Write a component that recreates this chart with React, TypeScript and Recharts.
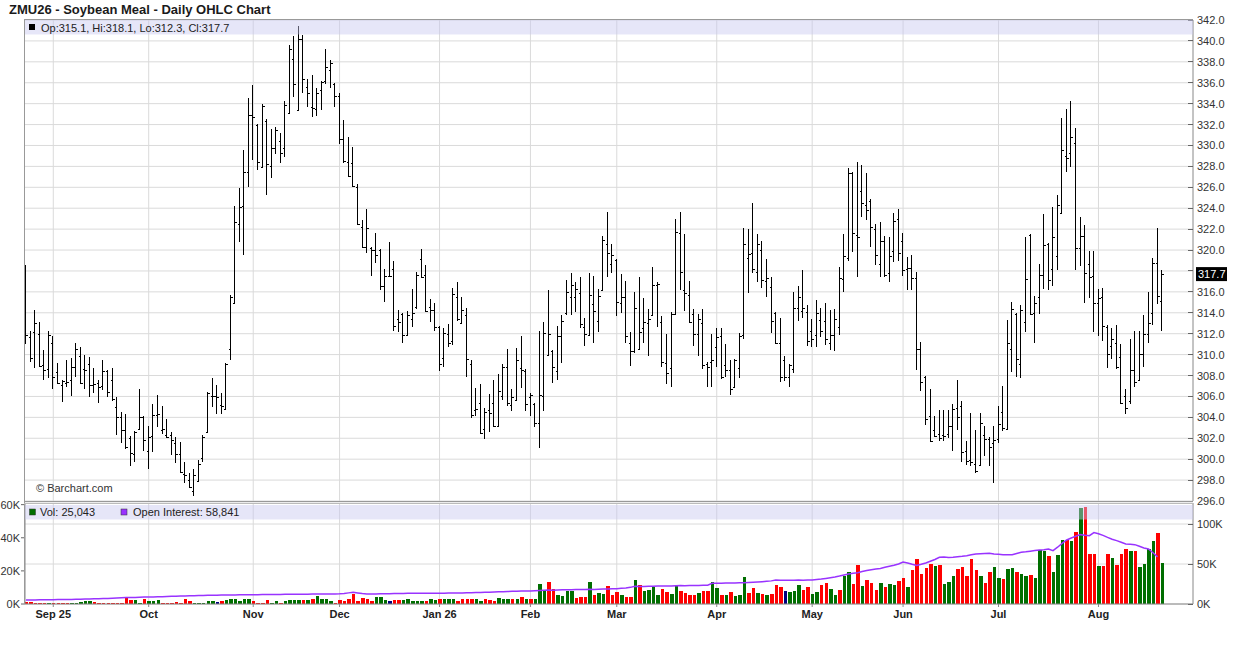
import React from 'react';
import {
  ComposedChart,
  Bar,
  Line,
  XAxis,
  YAxis,
  CartesianGrid,
  ReferenceLine,
} from 'recharts';

const FONT = "'Liberation Sans', Arial, Helvetica, sans-serif";

// daily OHLC, ZMU26 soybean meal (Aug 22 2025 .. Aug 21 2026)
const opens = [
  314.2, 311.7, 312.2, 312.0, 309.0, 308.6, 311.1, 308.3, 307.1, 307.3,
  307.6, 308.8, 309.9, 308.6, 309.1, 307.1, 307.3, 307.0, 308.4, 307.6,
  305.0, 304.0, 302.8, 302.0, 300.5, 302.9, 304.0, 300.8, 302.2, 304.2,
  302.8, 302.3, 302.3, 301.5, 300.5, 298.6, 298.0, 297.0, 297.9, 300.1,
  302.6, 306.0, 306.0, 305.2, 304.8, 310.5, 314.9, 322.5, 324.2, 327.5,
  332.9, 332.0, 327.9, 332.3, 328.0, 329.8, 330.4, 329.8, 333.1, 338.3,
  333.4, 340.2, 335.6, 333.7, 333.5, 335.3, 336.2, 337.2, 335.9, 334.7,
  330.6, 328.4, 328.3, 326.0, 322.2, 320.3, 320.2, 320.0, 320.0, 316.6,
  317.5, 318.2, 313.4, 313.9, 311.9, 313.4, 314.6, 319.1, 317.6, 314.6,
  314.3, 312.6, 309.7, 312.0, 311.3, 315.5, 313.0, 313.8, 309.1, 304.7,
  305.4, 302.9, 304.7, 305.4, 303.2, 306.0, 308.8, 305.2, 305.7, 308.7,
  308.4, 305.9, 305.3, 303.5, 306.0, 310.0, 310.3, 308.4, 311.8, 314.0,
  315.5, 315.5, 315.9, 312.6, 311.9, 314.8, 313.2, 316.2, 320.6, 318.7,
  319.0, 314.9, 315.5, 311.1, 310.3, 310.5, 312.5, 313.0, 313.8, 316.7,
  313.1, 309.2, 308.7, 313.9, 321.6, 316.2, 315.7, 313.9, 312.0, 313.0,
  309.1, 309.3, 310.7, 311.8, 309.0, 308.5, 306.9, 308.7, 311.9, 319.2,
  319.7, 317.9, 320.0, 317.0, 316.5, 314.0, 311.1, 309.5, 307.9, 308.6,
  314.5, 314.2, 314.1, 312.3, 311.9, 313.3, 313.2, 311.1, 311.9, 312.6,
  317.2, 319.2, 327.4, 321.4, 325.6, 324.3, 324.7, 322.0, 318.7, 320.9,
  317.8, 319.9, 323.0, 320.9, 318.2, 318.3, 317.3, 310.5, 307.9, 304.1,
  302.8, 302.4, 302.3, 302.4, 303.2, 304.9, 305.1, 300.8, 299.9, 299.5,
  299.4, 302.3, 301.9, 301.5, 301.9, 304.5, 302.9, 310.5, 313.9, 309.1,
  313.1, 321.4, 314.0, 315.5, 317.6, 320.6, 318.2, 319.4, 323.5, 329.0,
  329.3, 330.2, 320.2, 321.3, 318.7, 317.5, 314.9, 315.5, 312.6, 310.8,
  311.1, 309.8, 306.0, 305.6, 308.5, 307.6, 310.1, 312.0, 314.0, 318.8,
  315.1,
];

const highs = [
  318.6, 312.3, 314.3, 313.1, 310.4, 312.3, 311.8, 309.2, 307.6, 309.5,
  309.7, 311.1, 310.7, 310.0, 309.8, 308.7, 307.6, 309.5, 308.5, 308.7,
  305.9, 304.5, 304.3, 302.2, 302.7, 306.7, 304.1, 303.2, 305.3, 306.1,
  305.1, 303.8, 302.6, 302.1, 301.6, 299.7, 298.7, 299.1, 299.9, 302.3,
  306.4, 307.8, 307.1, 306.3, 309.2, 315.7, 324.2, 325.9, 329.6, 334.5,
  335.8, 332.1, 334.0, 332.5, 331.6, 331.8, 331.2, 334.3, 339.6, 340.5,
  341.4, 340.6, 336.4, 336.7, 335.5, 336.2, 339.2, 338.2, 336.0, 335.0,
  332.4, 330.8, 329.9, 326.3, 322.9, 323.9, 320.3, 321.6, 320.1, 318.2,
  320.8, 319.0, 314.3, 314.0, 314.2, 316.3, 317.9, 320.1, 318.6, 315.3,
  314.9, 312.7, 312.5, 312.9, 316.4, 316.9, 315.5, 314.5, 309.5, 306.8,
  307.2, 304.9, 306.2, 307.6, 308.1, 309.1, 310.5, 306.7, 310.6, 311.8,
  308.6, 306.3, 305.4, 312.3, 313.1, 316.2, 310.4, 312.7, 313.8, 317.1,
  317.8, 316.9, 317.4, 313.5, 317.8, 317.5, 316.3, 321.3, 323.6, 320.6,
  319.1, 317.7, 317.0, 312.2, 316.0, 317.4, 315.4, 314.4, 318.4, 316.9,
  313.7, 312.0, 314.1, 323.0, 323.6, 321.5, 317.0, 314.4, 313.9, 314.4,
  309.3, 312.0, 312.5, 312.5, 311.0, 309.5, 309.6, 312.1, 322.1, 322.0,
  324.5, 321.5, 320.9, 319.1, 317.4, 314.1, 313.5, 309.9, 309.1, 316.0,
  316.6, 318.1, 314.7, 313.4, 315.2, 314.5, 314.9, 314.3, 314.4, 318.4,
  321.5, 327.8, 327.5, 328.4, 328.1, 327.4, 324.9, 322.5, 322.7, 321.3,
  321.2, 323.5, 323.9, 321.6, 319.3, 319.5, 317.9, 311.2, 308.0, 306.7,
  304.1, 304.7, 304.7, 304.7, 305.3, 307.6, 305.6, 301.7, 304.4, 302.8,
  304.4, 303.2, 302.1, 303.2, 305.1, 307.0, 313.3, 315.0, 314.0, 314.7,
  321.2, 321.5, 315.6, 318.7, 323.4, 320.7, 324.1, 325.3, 332.6, 333.5,
  334.3, 331.7, 323.2, 322.4, 319.9, 319.9, 316.3, 316.4, 312.8, 312.5,
  312.8, 311.0, 306.7, 311.5, 312.3, 312.3, 313.8, 316.0, 319.2, 322.1,
  318.1,
];

const lows = [
  311.0, 309.3, 308.7, 308.8, 307.6, 307.8, 306.7, 307.2, 305.5, 306.9,
  306.0, 307.9, 307.2, 306.7, 305.9, 306.3, 305.4, 306.6, 305.9, 305.6,
  302.3, 301.5, 301.0, 299.3, 299.7, 302.8, 300.8, 299.1, 300.7, 303.1,
  302.4, 302.0, 300.4, 299.6, 298.7, 297.7, 297.2, 296.5, 297.8, 299.7,
  302.5, 305.0, 304.3, 304.3, 304.7, 309.5, 314.8, 320.8, 319.5, 326.0,
  328.6, 327.7, 327.8, 325.3, 326.9, 329.2, 328.3, 328.9, 333.0, 334.6,
  333.3, 335.0, 333.7, 332.7, 332.8, 333.4, 335.9, 335.5, 333.7, 330.1,
  328.3, 327.0, 326.0, 322.4, 320.2, 319.7, 317.5, 318.8, 316.2, 315.0,
  317.4, 312.3, 312.2, 311.1, 311.8, 312.6, 314.4, 317.3, 314.1, 313.1,
  312.3, 308.4, 308.8, 310.7, 310.9, 313.2, 312.9, 307.9, 303.9, 304.1,
  302.4, 301.9, 302.6, 303.1, 303.1, 305.7, 305.1, 304.6, 305.6, 306.8,
  304.6, 304.1, 303.1, 301.1, 304.6, 309.9, 307.3, 307.6, 309.2, 313.8,
  313.8, 314.1, 312.5, 310.8, 311.8, 311.1, 312.2, 316.1, 317.4, 317.8,
  313.7, 314.0, 311.1, 308.9, 310.2, 310.4, 311.1, 309.9, 313.7, 312.6,
  308.8, 307.2, 306.9, 313.8, 316.2, 314.2, 313.0, 310.8, 309.9, 308.6,
  306.9, 306.9, 308.8, 307.7, 307.9, 306.1, 306.8, 307.8, 311.5, 315.9,
  317.8, 316.9, 316.4, 315.5, 312.1, 311.0, 307.4, 307.5, 306.9, 308.2,
  313.2, 313.5, 310.8, 310.7, 310.7, 311.7, 310.9, 310.4, 310.3, 311.9,
  316.0, 319.0, 319.8, 317.4, 323.2, 322.9, 320.3, 318.6, 317.4, 317.4,
  316.9, 318.9, 319.0, 317.5, 316.2, 316.2, 308.5, 306.5, 303.3, 301.6,
  302.1, 301.7, 301.7, 302.0, 300.8, 302.8, 299.7, 299.4, 299.3, 298.7,
  299.3, 300.3, 299.3, 297.7, 301.5, 302.7, 302.8, 308.3, 307.9, 307.8,
  312.2, 313.8, 311.1, 313.9, 316.3, 316.2, 316.6, 318.1, 323.4, 327.5,
  327.9, 318.1, 318.5, 314.9, 315.4, 312.2, 311.8, 311.3, 308.7, 309.6,
  308.6, 305.3, 304.3, 305.3, 306.9, 307.5, 308.8, 311.1, 312.8, 314.8,
  312.3,
];

const closes = [
  311.9, 309.7, 313.0, 308.9, 308.5, 311.9, 307.9, 307.3, 307.5, 307.4,
  308.8, 310.5, 307.3, 308.5, 307.1, 307.2, 306.9, 308.4, 306.4, 305.8,
  304.0, 302.8, 301.2, 300.6, 302.6, 304.0, 301.8, 302.1, 304.2, 304.3,
  302.9, 302.1, 301.8, 300.5, 298.8, 298.5, 297.3, 298.5, 299.5, 302.1,
  306.3, 306.0, 305.9, 305.1, 309.1, 315.5, 322.7, 324.1, 327.5, 332.9,
  332.7, 328.4, 333.8, 328.2, 329.8, 331.5, 329.3, 333.9, 339.2, 335.9,
  340.2, 336.4, 335.0, 333.6, 335.0, 336.1, 337.5, 337.9, 334.7, 330.6,
  328.5, 327.1, 326.1, 322.5, 320.3, 322.1, 320.0, 319.5, 316.6, 317.5,
  317.5, 312.7, 313.1, 311.9, 313.8, 314.0, 317.6, 317.4, 314.2, 314.3,
  312.6, 309.1, 312.1, 311.1, 315.8, 313.4, 314.3, 309.6, 304.2, 304.8,
  302.5, 304.5, 304.4, 303.2, 306.5, 308.8, 305.4, 305.9, 309.5, 308.5,
  305.3, 306.1, 303.5, 306.1, 312.1, 312.0, 308.8, 311.8, 313.2, 316.0,
  316.7, 316.3, 312.9, 312.0, 315.7, 314.2, 315.6, 321.0, 319.7, 319.5,
  315.0, 315.5, 311.8, 310.3, 314.5, 312.2, 313.1, 313.4, 316.7, 316.8,
  309.3, 308.2, 313.9, 321.7, 317.9, 315.9, 313.1, 312.0, 313.4, 309.0,
  308.8, 309.5, 311.7, 307.9, 308.5, 306.7, 309.5, 311.8, 320.6, 319.6,
  318.2, 320.6, 317.1, 317.3, 313.2, 311.1, 307.9, 307.9, 309.0, 314.5,
  315.5, 314.5, 311.3, 311.5, 314.0, 312.3, 311.5, 311.9, 313.4, 317.3,
  319.4, 327.4, 321.6, 321.2, 324.5, 323.8, 322.2, 319.5, 320.9, 317.6,
  319.4, 322.8, 319.7, 318.1, 318.3, 317.3, 310.5, 307.4, 303.8, 301.7,
  302.2, 302.0, 302.2, 303.2, 304.8, 304.0, 300.7, 299.8, 299.7, 298.9,
  303.5, 301.9, 301.2, 301.8, 303.4, 303.0, 311.1, 314.4, 309.6, 314.3,
  317.2, 313.9, 314.9, 317.6, 320.5, 317.1, 321.2, 324.3, 329.6, 328.8,
  330.8, 320.2, 321.3, 317.8, 317.4, 314.9, 315.4, 312.7, 310.1, 311.5,
  308.8, 305.4, 304.9, 308.5, 307.4, 310.1, 312.0, 313.0, 318.8, 315.6,
  317.7,
];

// volume in thousands of contracts
const volumes = [
  1.0, 1.4, 0.6, 0.8, 0.8, 0.8, 0.8, 0.8, 0.8, 0.8,
  0.8, 0.8, 1.0, 1.6, 2.0, 1.4, 0.8, 0.8, 0.8, 0.8,
  0.8, 0.8, 3.8, 2.2, 2.2, 0.8, 2.8, 1.6, 1.6, 2.2,
  0.8, 0.8, 0.8, 1.4, 0.8, 2.8, 2.0, 0.8, 0.8, 0.8,
  1.6, 1.6, 1.4, 1.6, 2.4, 2.8, 2.8, 1.6, 3.2, 2.8,
  1.6, 0.8, 0.8, 2.4, 0.8, 1.6, 0.8, 1.6, 2.2, 2.2,
  2.2, 2.2, 2.2, 3.2, 4.6, 2.8, 2.8, 1.6, 0.8, 2.2,
  1.6, 2.8, 5.9, 1.6, 3.8, 3.2, 1.6, 4.0, 4.0, 2.2,
  1.6, 2.2, 2.2, 2.2, 2.8, 1.6, 1.6, 1.6, 1.6, 2.8,
  2.2, 2.8, 2.8, 2.8, 2.8, 1.6, 2.8, 2.8, 2.8, 3.2,
  2.0, 2.8, 2.2, 1.6, 3.8, 2.8, 2.8, 2.8, 2.8, 4.0,
  2.8, 2.8, 2.8, 11.9, 8.3, 13.0, 8.9, 5.7, 4.6, 7.9,
  7.9, 3.8, 4.4, 4.4, 13.5, 5.7, 6.7, 6.3, 11.1, 5.7,
  7.3, 5.7, 4.4, 4.4, 14.7, 11.7, 8.1, 8.7, 10.1, 5.7,
  9.3, 7.3, 6.3, 11.7, 8.1, 6.9, 5.3, 5.7, 6.9, 8.1,
  8.1, 13.5, 9.9, 5.7, 5.7, 7.3, 5.1, 5.7, 16.6, 6.9,
  9.9, 6.9, 6.3, 5.7, 6.3, 11.7, 10.5, 8.1, 7.3, 8.1,
  11.7, 8.7, 10.5, 6.3, 7.3, 11.7, 12.9, 9.3, 5.7, 8.7,
  17.2, 19.6, 12.3, 23.8, 11.1, 14.7, 12.9, 8.7, 12.9, 10.5,
  12.3, 11.7, 14.1, 16.0, 10.5, 20.8, 26.9, 18.4, 22.0, 24.4,
  23.2, 23.8, 12.3, 13.5, 17.2, 21.4, 22.6, 17.2, 26.9, 20.8,
  17.2, 12.9, 19.6, 22.6, 16.0, 15.4, 21.4, 22.0, 19.6, 18.4,
  17.2, 17.8, 16.0, 32.9, 32.3, 28.7, 19.6, 29.3, 38.4, 38.4,
  37.8, 43.2, 57.8, 58.4, 30.5, 29.9, 23.2, 23.2, 30.5, 27.5,
  23.8, 29.9, 33.5, 32.3, 32.3, 22.6, 24.4, 33.5, 37.8, 42.6,
  25.043,
];

// u = up day, d = down day, n = unchanged
const volDir =
  'dddddudddd' + 'uuuuuddddd' + 'dddduuduuu' + 'ddddddduuu' + 'uunduuuuuu' +
  'dddduuduuu' + 'ududuuuudd' + 'ddddddduuu' + 'ndduuuuudu' + 'uduuuddddu' +
  'uddduuudud' + 'uduuudduuu' + 'uddduduudd' + 'dudduduuuu' + 'dduuddddud' +
  'duududuuud' + 'dududddnuu' + 'udduudduud' + 'uuddudddud' + 'uudduddddd' +
  'uduuuddddd' + 'udduuduudu' + 'uduuuduuud' + 'ududdduddu' + 'ddduduuuud' +
  'u';

// open interest in thousands
const openInterest: (number | null)[] = [
  5.0, 5.0, 5.1, 5.2, 5.2, 5.3, 5.4, 5.5, 5.5, 5.6,
  5.7, 5.8, 6.0, 6.1, 6.3, 6.5, 6.6, 6.8, 7.0, 7.2,
  7.4, 7.7, 8.0, 8.1, 8.2, 8.4, 8.6, 8.8, 8.9, 9.0,
  9.2, 9.4, 9.6, 9.8, 9.9, 10.1, 10.3, 10.4, 10.5, 10.6,
  10.8, 10.9, 11.0, 11.1, 11.2, 11.3, 11.4, 11.5, 11.6, 11.6,
  11.7, 11.7, 11.8, 11.9, 11.9, 12.0, 12.0, 12.1, 12.1, 12.2,
  12.2, 12.3, 12.3, 12.4, 12.5, 12.5, 12.6, 12.6, 12.6, 12.7,
  13.2, 13.9, 14.7, 13.8, 13.0, 12.6, 12.5, 12.6, 12.7, 12.8,
  12.9, 13.0, 13.1, 13.2, 13.3, 13.4, 13.4, 13.5, 13.4, 13.3,
  13.3, 13.4, 13.5, 13.6, 13.7, 13.8, 13.9, 14.0, 14.2, 14.3,
  14.5, 14.6, 14.8, 15.0, 15.2, 15.4, 15.6, 15.8, 16.0, 16.2,
  16.2, 16.3, 16.5, 16.8, 17.1, 17.4, 17.3, 17.6, 17.8, 17.7,
  17.9, 18.0, 18.1, 18.0, 18.3, 18.2, 18.5, 18.7, 18.9, 19.0,
  19.2, 19.6, 20.1, 20.8, 22.1, 22.0, 21.9, 22.2, 22.3, 22.4,
  22.5, 22.6, 22.6, 22.9, 23.0, 22.9, 23.1, 23.2, 23.1, 23.3,
  23.5, 25.8, 25.9, 26.0, 26.1, 26.2, 26.3, 26.5, 26.7, 26.9,
  27.2, 27.5, 27.9, 28.4, 28.9, 30.0, 29.7, 29.6, 29.7, 29.8,
  29.9, 29.8, 29.9, 30.0, 30.6, 31.2, 32.0, 32.9, 33.8, 34.9,
  36.2, 37.5, 38.4, 39.2, 40.5, 41.8, 42.9, 43.8, 44.5, 45.9,
  47.1, 48.4, 50.0, 52.5, 51.2, 49.6, 48.3, 49.7, 51.3, 53.5,
  55.6, 58.3, 58.6, 58.1, 58.3, 59.0, 59.6, 60.4, 61.5, 62.5,
  62.8, 63.0, 63.3, 62.6, 62.1, 61.7, 61.5, 61.7, 63.2, 64.6,
  65.2, 66.0, 66.8, 67.5, 67.9, 68.8, 66.7, 71.0, 75.8, 80.0,
  82.5, 84.6, 86.7, 85.8, 85.4, 89.2, 87.9, 85.8, 83.3, 81.0,
  79.2, 77.1, 75.0, 74.6, 74.2, 72.1, 70.0, 68.8, 64.0, 58.841,
  null,
];

// index of the first trading day of each month, and its label
const monthIdx = [6, 27, 50, 69, 91, 111, 130, 152, 173, 193, 214, 236];
const monthLabels = ['Sep 25', 'Oct', 'Nov', 'Dec', 'Jan 26', 'Feb', 'Mar', 'Apr', 'May', 'Jun', 'Jul', 'Aug'];

const priceTicks = [
  296, 298, 300, 302, 304, 306, 308, 310, 312, 314, 316, 318,
  320, 322, 324, 326, 328, 330, 332, 334, 336, 338, 340, 342,
];
const volTicks = [0, 20, 40, 60];
const oiTicks = [0, 50, 100];

const X_DOMAIN: [number, number] = [-0.22, 256.8];

const data = opens.map((o, i) => ({
  i,
  o,
  h: highs[i],
  l: lows[i],
  c: closes[i],
  hl: [lows[i], highs[i]],
  vol: volumes[i],
  dir: volDir[i],
  oi: openInterest[i],
}));

const last = data[data.length - 1];

const OhlcShape = (props: any) => {
  const { x, y, width, height, payload } = props;
  if (x == null || y == null || !payload) return null;
  const top = Math.min(y, y + height);
  const bot = Math.max(y, y + height);
  const span = payload.h - payload.l;
  const k = span > 0 ? (bot - top) / span : 0;
  const yo = Math.round(top + (payload.h - payload.o) * k) + 0.5;
  const yc = Math.round(top + (payload.h - payload.c) * k) + 0.5;
  const cx = Math.floor(x + width / 2) + 0.5;
  return (
    <g stroke="#000" strokeWidth={1} shapeRendering="crispEdges">
      <line x1={cx} x2={cx} y1={top} y2={bot} />
      <line x1={cx - 2} x2={cx} y1={yo} y2={yo} />
      <line x1={cx} x2={cx + 2} y1={yc} y2={yc} />
    </g>
  );
};

const VolShape = (props: any) => {
  const { x, y, width, height, payload } = props;
  if (x == null || !payload || !height) return null;
  const fill = payload.dir === 'u' ? '#006e00' : payload.dir === 'n' ? '#000080' : '#ff0000';
  return (
    <rect x={x} y={y} width={width} height={height} fill={fill} shapeRendering="crispEdges" />
  );
};

const RightTick = (props: any) => {
  const { x, y, payload, fmt, skip } = props;
  const showText = !(skip && skip(payload.value));
  return (
    <g>
      <line x1={x - 5} x2={x} y1={y} y2={y} stroke="#666" shapeRendering="crispEdges" />
      {showText && (
        <text x={x + 4} y={y} dy={4} fontSize={11} fill="#333" fontFamily={FONT}>
          {fmt(payload.value)}
        </text>
      )}
    </g>
  );
};

const PriceTag = (props: any) => {
  const vb = props.viewBox;
  if (!vb) return null;
  const x0 = vb.x + vb.width + 3;
  const y0 = vb.y;
  return (
    <g>
      <rect x={x0} y={y0 - 7} width={31} height={14} fill="#000" />
      <text x={x0 + 2} y={y0 + 4} fontSize={11} fill="#fff" fontFamily={FONT}>
        {last.c.toFixed(1)}
      </text>
    </g>
  );
};

export default function App() {
  return (
    <div style={{ position: 'relative', width: 1236, height: 645, background: '#fff', fontFamily: FONT }}>
      <style>{'body{margin:0}'}</style>

      <div style={{ position: 'absolute', left: 0, top: 0 }}>
        <ComposedChart width={1236} height={512} data={data} margin={{ top: 20, right: 0, bottom: 11, left: 25 }}>
          <CartesianGrid stroke="#dadada" verticalValues={monthIdx} />
          <XAxis type="number" dataKey="i" domain={X_DOMAIN} allowDataOverflow hide ticks={monthIdx} />
          <YAxis
            orientation="right"
            width={43}
            domain={[296, 342]}
            ticks={priceTicks}
            allowDataOverflow
            interval={0}
            tickSize={0}
            tickMargin={0}
            tickLine={false}
            axisLine={{ stroke: '#888' }}
            tick={
              <RightTick
                fmt={(v: number) => v.toFixed(1)}
                skip={(v: number) => Math.abs(v - last.c) < 1.2}
              />
            }
          />
          <Bar dataKey="hl" barSize={4} isAnimationActive={false} shape={(p: any) => <OhlcShape {...p} />} />
          <ReferenceLine y={last.c} stroke="none" label={(p: any) => <PriceTag {...p} />} />
        </ComposedChart>
      </div>

      <div style={{ position: 'absolute', left: 0, top: 490 }}>
        <ComposedChart width={1236} height={155} data={data} margin={{ top: 13, right: 0, bottom: 11, left: 0 }}>
          <CartesianGrid stroke="#dadada" yAxisId="oi" verticalValues={monthIdx} />
          <XAxis
            type="number"
            dataKey="i"
            domain={X_DOMAIN}
            allowDataOverflow
            ticks={monthIdx}
            interval={0}
            height={30}
            tickSize={3}
            tickMargin={3}
            axisLine={{ stroke: '#888' }}
            tickLine={{ stroke: '#888' }}
            tickFormatter={(v: number) => monthLabels[monthIdx.indexOf(v)] ?? ''}
            tick={{ fontSize: 11, fontWeight: 'bold', fill: '#222', fontFamily: FONT }}
          />
          <YAxis
            yAxisId="vol"
            orientation="left"
            width={25}
            domain={[0, 61]}
            ticks={volTicks}
            allowDataOverflow
            interval={0}
            tickSize={4}
            tickMargin={1}
            axisLine={{ stroke: '#888' }}
            tickLine={{ stroke: '#666' }}
            tickFormatter={(v: number) => `${v}K`}
            tick={{ fontSize: 11, fill: '#333', fontFamily: FONT }}
          />
          <YAxis
            yAxisId="oi"
            orientation="right"
            width={43}
            domain={[0, 126.25]}
            ticks={oiTicks}
            allowDataOverflow
            interval={0}
            tickSize={0}
            tickMargin={0}
            tickLine={false}
            axisLine={{ stroke: '#888' }}
            tick={<RightTick fmt={(v: number) => `${v}K`} />}
          />
          <Bar yAxisId="vol" dataKey="vol" barSize={3.5} isAnimationActive={false} shape={(p: any) => <VolShape {...p} />} />
          <Line
            yAxisId="oi"
            dataKey="oi"
            type="linear"
            stroke="#9933ff"
            strokeWidth={1.5}
            dot={false}
            activeDot={false}
            connectNulls={false}
            isAnimationActive={false}
          />
        </ComposedChart>
      </div>

      <svg
        width={1236}
        height={645}
        style={{ position: 'absolute', left: 0, top: 0, pointerEvents: 'none' }}
        fontFamily={FONT}
      >
        <text x={9} y={13.5} fontSize={13} fontWeight="bold" fill="#1a1a1a">
          ZMU26 - Soybean Meal - Daily OHLC Chart
        </text>

        <line x1={24.5} x2={24.5} y1={19} y2={604} stroke="#999" />
        <line x1={24} x2={1193} y1={19.5} y2={19.5} stroke="#999" />
        <line x1={24} x2={1193} y1={501.5} y2={501.5} stroke="#999" />
        <line x1={24} x2={1193} y1={503.5} y2={503.5} stroke="#bbb" />

        <rect x={25} y={20} width={1168} height={14.5} fill="#c8c8f0" fillOpacity={0.45} />
        <rect x={29} y={24} width={6} height={6} fill="#000" />
        <text x={41} y={31.5} fontSize={11} fill="#222">
          {`Op:${last.o.toFixed(1)}, Hi:${last.h.toFixed(1)}, Lo:${last.l.toFixed(1)}, Cl:${last.c.toFixed(1)}`}
        </text>

        <text x={36} y={492} fontSize={11} fill="#333">© Barchart.com</text>

        <rect x={25} y={505} width={1168} height={14.5} fill="#c8c8f0" fillOpacity={0.45} />
        <rect x={29.5} y={509} width={6} height={6} fill="#006e00" stroke="#333" strokeWidth={0.5} />
        <text x={40} y={516} fontSize={11} fill="#222">
          {`Vol: ${Math.round(last.vol * 1000).toLocaleString('en-US')}`}
        </text>
        <rect x={121} y={509} width={6} height={6} fill="#9933ff" stroke="#333" strokeWidth={0.5} />
        <text x={133} y={516} fontSize={11} fill="#222">
          {`Open Interest: ${Math.round((openInterest[openInterest.length - 2] as number) * 1000).toLocaleString('en-US')}`}
        </text>
      </svg>
    </div>
  );
}
